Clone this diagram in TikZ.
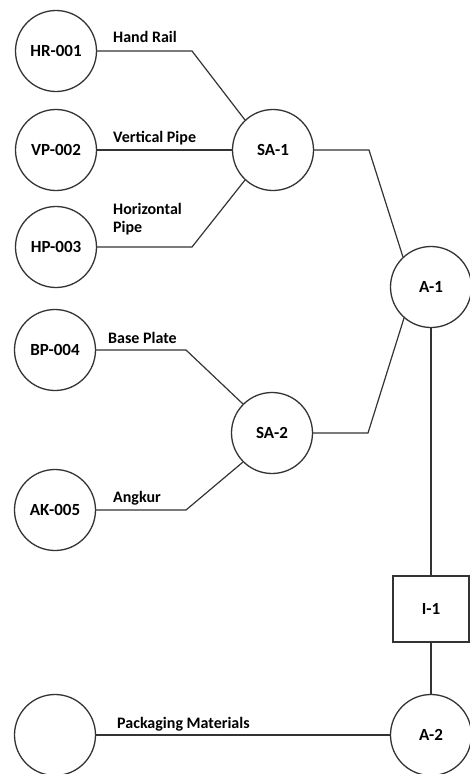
\documentclass[tikz,border=0pt]{standalone}
\usepackage{fontspec}
\setmainfont{Carlito}
\usepackage{xcolor}
\usepackage{tikz}

\definecolor{linegray}{HTML}{333333}

\begin{document}
\begin{tikzpicture}[x=1pt,y=-1pt,
  part/.style={circle,draw=linegray,line width=1.3pt,minimum size=81pt,inner sep=0pt,font=\bfseries\fontsize{17}{19}\selectfont},
  inspbox/.style={rectangle,draw=linegray,line width=1.3pt,minimum width=76pt,minimum height=66pt,font=\bfseries\fontsize{17}{19}\selectfont},
  lbl/.style={anchor=base west,inner sep=0pt,font=\bfseries\fontsize{16}{18}\selectfont},
  wire/.style={draw=linegray,line width=1.2pt}]
\useasboundingbox (0,0) rectangle (470,774);
\node[part] (hr) at (56,51) {HR-001};
\node[part] (vp) at (56,150) {VP-002};
\node[part] (hp) at (56,247) {HP-003};
\node[part] (bp) at (55,350) {BP-004};
\node[part] (ak) at (55,510) {AK-005};
\node[part] (pk) at (55,735) {};
\node[part] (sa1) at (273,150) {SA-1};
\node[part] (sa2) at (272,433) {SA-2};
\node[part] (a1) at (431,287) {A-1};
\node[inspbox] (i1) at (431,609) {I-1};
\node[part] (a2) at (431,735) {A-2};

\node[lbl] (lhr) at (113,42) {Hand Rail};
\node[lbl] (lvp) at (113,142) {Vertical Pipe};
\node[lbl,align=left,anchor=north west] (lhp) at (113,203) {Horizontal\\Pipe};
\node[lbl] (lbp) at (108,343) {Base Plate};
\node[lbl] (lak) at (113,502) {Angkur};
\node[lbl] (lpk) at (117,728) {Packaging Materials};

\draw[wire] (hr.east) -- (192,51) -- (sa1.133);
\draw[wire] (vp.east) -- (sa1.west);
\draw[wire] (hp.east) -- (192,247) -- (sa1.227);
\draw[wire] (bp.east) -- (186,350) -- (sa2.135);
\draw[wire] (ak.east) -- (186,510) -- (sa2.225);
\draw[wire] (sa1.east) -- (369,150) -- (a1.133);
\draw[wire] (sa2.east) -- (368,433) -- (a1.229);
\draw[wire] (a1.south) -- (i1.north);
\draw[wire] (i1.south) -- (a2.north);
\draw[wire] (pk.east) -- (a2.west);
\end{tikzpicture}
\end{document}
